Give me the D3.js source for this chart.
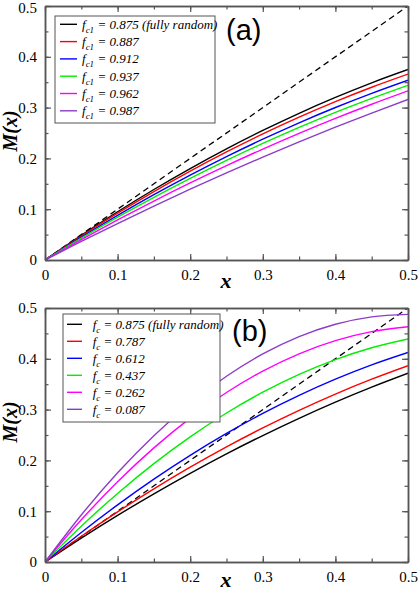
<!DOCTYPE html>
<html>
<head>
<meta charset="utf-8">
<script src="https://cdn.jsdelivr.net/npm/d3@7"></script>
<style>
  html, body { margin: 0; padding: 0; background: #fff; }
  svg { display: block; }
  .tick text { font-family: "Liberation Serif", "Times New Roman", serif !important; font-size: 15px !important; }
</style>
</head>
<body>
<script>
// ---------- data ----------
const xValues = [0, 0.05, 0.1, 0.15, 0.2, 0.25, 0.3, 0.35, 0.4, 0.45, 0.5];
const tickValues = [0, 0.1, 0.2, 0.3, 0.4, 0.5];
const tickLabels = ["0", "0.1", "0.2", "0.3", "0.4", "0.5"];

const legendA = ["0.875 (fully random)", "0.887", "0.912", "0.937", "0.962", "0.987"];
const legendB = ["0.875 (fully random)", "0.787", "0.612", "0.437", "0.262", "0.087"];

const aBlack   = [0, 0.0488, 0.0950, 0.1388, 0.1800, 0.2188, 0.2550, 0.2888, 0.3200, 0.3488, 0.375];
const aRed     = [0, 0.0473, 0.0922, 0.1348, 0.1750, 0.2128, 0.2482, 0.2812, 0.3118, 0.3401, 0.366];
const aBlue    = [0, 0.0449, 0.0878, 0.1285, 0.1670, 0.2035, 0.2378, 0.2701, 0.3002, 0.3281, 0.354];
const aGreen   = [0, 0.0430, 0.0842, 0.1234, 0.1606, 0.1960, 0.2294, 0.2610, 0.2906, 0.3182, 0.344];
const aMagenta = [0, 0.0402, 0.0789, 0.1161, 0.1517, 0.1858, 0.2183, 0.2493, 0.2787, 0.3066, 0.333];
const aViolet  = [0, 0.0365, 0.0718, 0.1061, 0.1394, 0.1715, 0.2026, 0.2325, 0.2614, 0.2893, 0.316];

const bBlack   = [0, 0.0469, 0.0917, 0.1342, 0.1746, 0.2129, 0.2489, 0.2828, 0.3146, 0.3441, 0.3715];
const bRed     = [0, 0.0507, 0.0987, 0.1440, 0.1866, 0.2266, 0.2639, 0.2986, 0.3306, 0.3599, 0.3865];
const bBlue    = [0, 0.0581, 0.1125, 0.1631, 0.2100, 0.2531, 0.2925, 0.3281, 0.3600, 0.3881, 0.4125];
const bGreen   = [0, 0.0705, 0.1350, 0.1937, 0.2464, 0.2933, 0.3342, 0.3693, 0.3984, 0.4217, 0.439];
const bMagenta = [0, 0.0831, 0.1580, 0.2247, 0.2833, 0.3337, 0.3759, 0.4099, 0.4358, 0.4535, 0.463];
const bViolet  = [0, 0.0926, 0.1755, 0.2486, 0.3120, 0.3656, 0.4095, 0.4436, 0.4680, 0.4826, 0.4875];

const diagonal = [0, 0.5];

const palette = ["#000000", "#ff0000", "#0000ff", "#00ee00", "#ff00ff", "#8b3dc8"];

// ---------- drawing ----------
const W = 418, H = 591;
const svg = d3.select("body").append("svg").attr("width", W).attr("height", H)
  .style("background", "#fff");

const serif = "'Liberation Serif','Times New Roman',serif";
const sans = "'Liberation Sans',Arial,sans-serif";

function panel(cfg) {
  const x = d3.scaleLinear().domain([0, 0.5]).range([45, 408]);
  const y = d3.scaleLinear().domain([0, 0.5]).range([cfg.bottom, cfg.top]);
  const g = svg.append("g");

  const clipId = "clip" + cfg.id;
  svg.append("defs").append("clipPath").attr("id", clipId)
    .append("rect").attr("x", 45).attr("y", cfg.top).attr("width", 363).attr("height", cfg.bottom - cfg.top);

  const curves = g.append("g").attr("clip-path", `url(#${clipId})`);
  curves.append("path")
    .datum(diagonal)
    .attr("d", d3.line().x(d => x(d)).y(d => y(d)))
    .attr("fill", "none").attr("stroke", "#000").attr("stroke-width", 1.3)
    .attr("stroke-dasharray", "6,4");

  const line = d3.line().x((d, i) => x(xValues[i])).y(d => y(d)).curve(d3.curveMonotoneX);
  cfg.series.forEach((s, i) => {
    curves.append("path").datum(s).attr("d", line)
      .attr("fill", "none").attr("stroke", palette[i]).attr("stroke-width", 1.4);
  });

  const minor = d3.range(0, 0.5001, 0.05);
  const fmt = (d) => tickLabels[tickValues.findIndex(t => Math.abs(t - d) < 1e-9)];
  const axB = d3.axisBottom(x).tickValues(tickValues).tickFormat(fmt).tickSizeInner(-6).tickSizeOuter(0).tickPadding(9);
  const axL = d3.axisLeft(y).tickValues(tickValues).tickFormat(fmt).tickSizeInner(-6).tickSizeOuter(0).tickPadding(8);
  const axT = d3.axisTop(x).tickValues(tickValues).tickFormat("").tickSizeInner(-6).tickSizeOuter(0);
  const axR = d3.axisRight(y).tickValues(tickValues).tickFormat("").tickSizeInner(-6).tickSizeOuter(0);
  const mB = d3.axisBottom(x).tickValues(minor).tickFormat("").tickSizeInner(-3.5).tickSizeOuter(0);
  const mL = d3.axisLeft(y).tickValues(minor).tickFormat("").tickSizeInner(-3.5).tickSizeOuter(0);
  const mT = d3.axisTop(x).tickValues(minor).tickFormat("").tickSizeInner(-3.5).tickSizeOuter(0);
  const mR = d3.axisRight(y).tickValues(minor).tickFormat("").tickSizeInner(-3.5).tickSizeOuter(0);

  const axG = g.append("g");
  [[mB, `translate(0,${cfg.bottom})`], [mT, `translate(0,${cfg.top})`], [mL, "translate(45,0)"], [mR, "translate(408,0)"],
   [axB, `translate(0,${cfg.bottom})`], [axT, `translate(0,${cfg.top})`], [axL, "translate(45,0)", true], [axR, "translate(408,0)"]]
    .forEach(([ax, tr, isLeft]) => {
      const a = axG.append("g").attr("transform", tr).call(ax)
        .attr("font-family", serif).attr("font-size", 15);
      a.selectAll("path.domain").attr("stroke", "#555").attr("stroke-width", 1.5);
      a.selectAll(".tick line").attr("stroke", "#555").attr("stroke-width", 1.2);
      a.selectAll("text").style("font-family", serif).style("font-size", "15px").attr("fill", "#000");
      if (isLeft && cfg.top < 10) {
        // keep the topmost label inside the picture
        a.selectAll(".tick text").filter(d => Math.abs(d - 0.5) < 1e-9).attr("dy", "0.45em");
      }
    });

  g.append("text").attr("x", 226).attr("y", cfg.xLabelY)
    .attr("text-anchor", "middle").style("font-family", serif).attr("font-weight", "bold")
    .attr("font-style", "italic").attr("font-size", 22).text("x");
  g.append("text").attr("transform", `translate(17,${cfg.labelY}) rotate(-90)`)
    .attr("text-anchor", "middle").style("font-family", serif).attr("font-weight", "bold")
    .attr("font-style", "italic").attr("font-size", 20).text("M(x)");

  const lg = g.append("g");
  lg.append("rect").attr("x", cfg.box[0]).attr("y", cfg.box[1])
    .attr("width", cfg.box[2] - cfg.box[0]).attr("height", cfg.box[3] - cfg.box[1])
    .attr("fill", "#fff").attr("stroke", "#555").attr("stroke-width", 1);
  cfg.legend.forEach((lab, i) => {
    const yy = cfg.rowY0 + i * cfg.rowStep;
    lg.append("line").attr("x1", cfg.lineX[0]).attr("x2", cfg.lineX[1]).attr("y1", yy).attr("y2", yy)
      .attr("stroke", palette[i]).attr("stroke-width", 1.4);
    const t = lg.append("text").attr("x", cfg.textX).attr("y", yy + 4.5)
      .style("font-family", serif).attr("font-style", "italic").attr("font-size", 13);
    t.append("tspan").text("f");
    t.append("tspan").attr("font-size", 9).attr("dy", 4).text(cfg.sub);
    t.append("tspan").attr("dy", -4).text(" = " + lab);
  });

  g.append("text").attr("x", cfg.tagX).attr("y", cfg.tagY)
    .style("font-family", sans).attr("font-size", 29).text(cfg.tag);
}

panel({
  id: "a", top: 6, bottom: 260, labelY: 131, xLabelY: 288,
  series: [aBlack, aRed, aBlue, aGreen, aMagenta, aViolet],
  legend: legendA, sub: "c1",
  box: [55, 16, 215, 123], rowY0: 24.3, rowStep: 17.3, lineX: [60, 77], textX: 82,
  tag: "(a)", tagX: 226, tagY: 39.5
});
panel({
  id: "b", top: 308, bottom: 562, labelY: 422, xLabelY: 587,
  series: [bBlack, bRed, bBlue, bGreen, bMagenta, bViolet],
  legend: legendB, sub: "c",
  box: [63, 314, 220, 422], rowY0: 324.3, rowStep: 17, lineX: [67, 82], textX: 92.7,
  tag: "(b)", tagX: 232, tagY: 341
});
</script>
</body>
</html>
